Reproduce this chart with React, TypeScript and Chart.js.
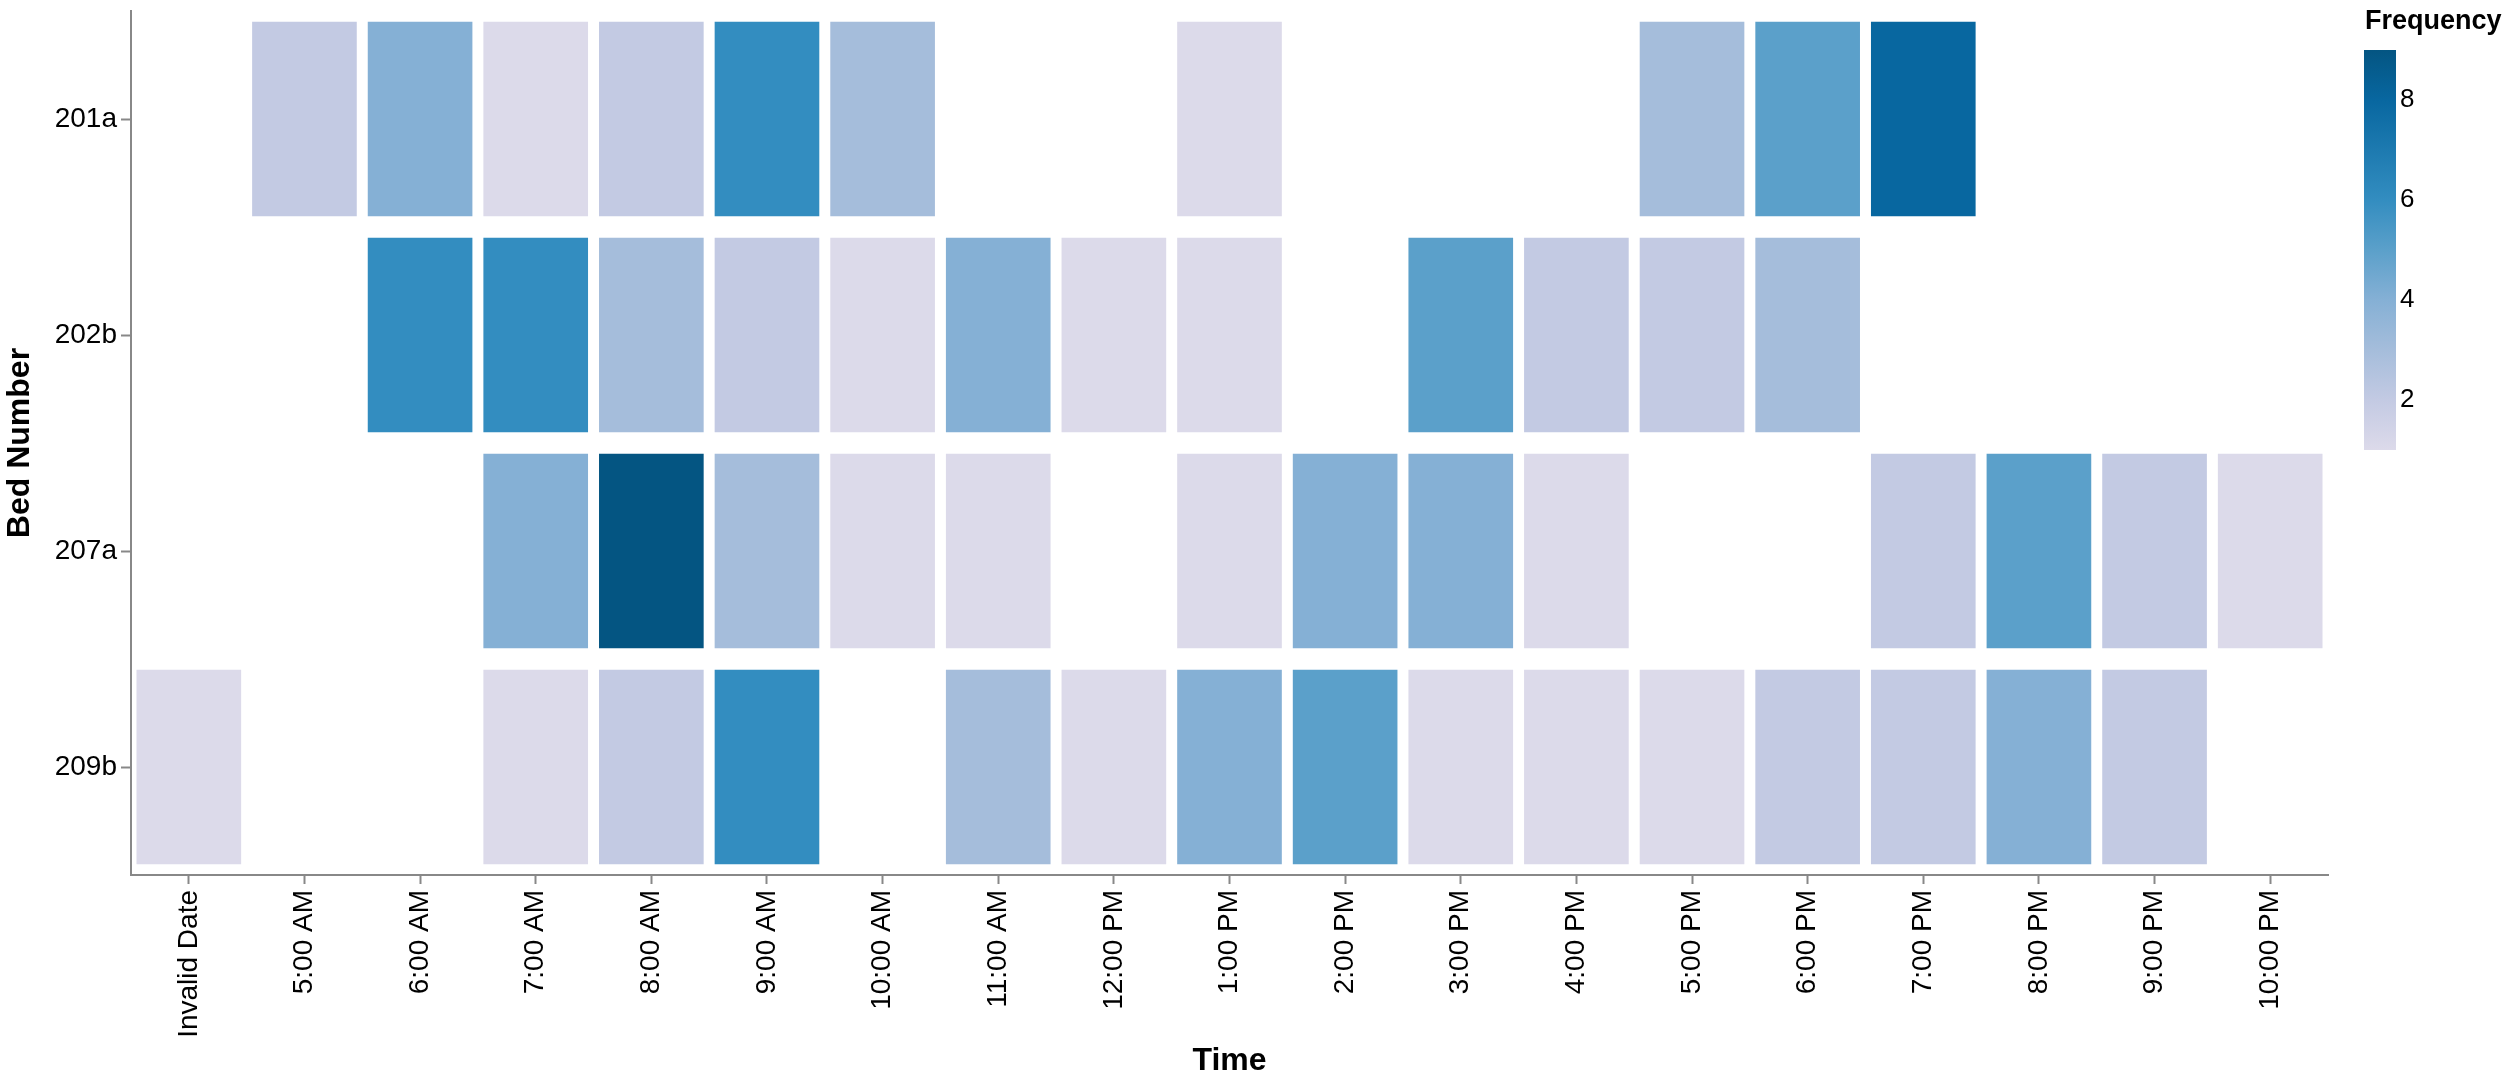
import React, { useEffect, useRef } from "react";
import { Chart, registerables } from "chart.js";

Chart.register(...registerables);

// ---- Data ----
const timeLabels = [
  "Invalid Date", "5:00 AM", "6:00 AM", "7:00 AM", "8:00 AM", "9:00 AM", "10:00 AM",
  "11:00 AM", "12:00 PM", "1:00 PM", "2:00 PM", "3:00 PM", "4:00 PM", "5:00 PM",
  "6:00 PM", "7:00 PM", "8:00 PM", "9:00 PM", "10:00 PM",
];
const bedLabels = ["201a", "202b", "207a", "209b"];

const bed201a = [null, 2, 4, 1, 2, 6, 3, null, null, 1, null, null, null, 3, 5, 8, null, null, null];
const bed202b = [null, null, 6, 6, 3, 2, 1, 4, 1, 1, null, 5, 2, 2, 3, null, null, null, null];
const bed207a = [null, null, null, 4, 9, 3, 1, 1, null, 1, 4, 4, 1, null, null, 2, 5, 2, 1];
const bed209b = [1, null, null, 1, 2, 6, null, 3, 1, 4, 5, 1, 1, 1, 2, 2, 4, 2, null];

const bedValues: (number | null)[][] = [bed201a, bed202b, bed207a, bed209b];

const legendTicks = [2, 4, 6, 8];
const colorDomain = [1, 9];

// ---- Styles ----
const FONT = "'Liberation Sans', Arial, Helvetica, sans-serif";
const AXIS_COLOR = "#888888";
const colorStops = [
  "#dcdaea", "#c3cae3", "#a5bddb", "#85b0d5", "#5ba0ca",
  "#338dc0", "#1d7ab0", "#0867a0", "#045582",
];

function hexToRgb(h: string): number[] {
  const n = parseInt(h.slice(1), 16);
  return [(n >> 16) & 255, (n >> 8) & 255, n & 255];
}

function colorFor(v: number): string {
  const t = Math.max(0, Math.min(1, (v - colorDomain[0]) / (colorDomain[1] - colorDomain[0])));
  const pos = t * (colorStops.length - 1);
  const i = Math.min(colorStops.length - 2, Math.floor(pos));
  const f = pos - i;
  const a = hexToRgb(colorStops[i]);
  const b = hexToRgb(colorStops[i + 1]);
  const c = a.map((x, k) => Math.round(x + (b[k] - x) * f));
  return `rgb(${c[0]},${c[1]},${c[2]})`;
}

const legendPlugin = {
  id: "colorLegend",
  afterDraw(chart: any) {
    const { ctx, chartArea } = chart;
    const x0 = chartArea.right + 36;
    const w = 32;
    const yTop = chartArea.top + 39;
    const yBot = chartArea.top + 439;
    const valToY = (v: number) =>
      yBot - ((v - colorDomain[0]) / (colorDomain[1] - colorDomain[0])) * (yBot - yTop);
    ctx.save();
    const g = ctx.createLinearGradient(0, yBot, 0, yTop);
    colorStops.forEach((c, i) => g.addColorStop(i / (colorStops.length - 1), c));
    ctx.fillStyle = g;
    ctx.fillRect(x0, yTop, w, yBot - yTop);
    ctx.fillStyle = "#000";
    ctx.font = `26px ${FONT}`;
    ctx.textAlign = "left";
    ctx.textBaseline = "middle";
    legendTicks.forEach((t) => ctx.fillText(String(t), x0 + w + 4, valToY(t)));
    ctx.font = `bold 27px ${FONT}`;
    ctx.fillText("Frequency", x0 + 1, 22);
    ctx.restore();
  },
};

export default function App() {
  const ref = useRef<HTMLCanvasElement | null>(null);

  useEffect(() => {
    if (!ref.current) return;
    const datasets = bedValues.map((vals, r) => ({
      label: bedLabels[r],
      data: vals.map((v) => (v == null ? null : [r - 0.45, r + 0.45])),
      backgroundColor: vals.map((v) => (v == null ? "rgba(0,0,0,0)" : colorFor(v))),
      borderWidth: 0,
      grouped: false,
      categoryPercentage: 1,
      barPercentage: 0.905,
    }));

    const chart = new Chart(ref.current, {
      type: "bar",
      data: { labels: timeLabels, datasets: datasets as any },
      plugins: [legendPlugin],
      options: {
        animation: false,
        responsive: false,
        maintainAspectRatio: false,
        layout: { padding: { left: 0, right: 180, top: 11, bottom: 0 } },
        plugins: { legend: { display: false }, tooltip: { enabled: false } },
        scales: {
          x: {
            type: "category",
            offset: true,
            grid: {
              offset: false,
              drawOnChartArea: false,
              drawTicks: true,
              tickLength: 9,
              tickWidth: 2,
              color: AXIS_COLOR,
            },
            border: { display: true, color: AXIS_COLOR, width: 2 },
            ticks: {
              minRotation: 90,
              maxRotation: 90,
              autoSkip: false,
              padding: 6,
              color: "#000",
              font: { size: 28, family: FONT },
            },
            title: {
              display: true,
              text: "Time",
              color: "#000",
              font: { size: 32, weight: "bold", family: FONT },
              padding: { top: 0, bottom: 2 },
            },
            afterFit: (s: any) => {
              s.height = 1082 - 875;
              s.paddingLeft = 0;
              s.paddingRight = 0;
            },
          },
          y: {
            type: "linear",
            min: -0.5,
            max: 3.5,
            reverse: true,
            afterBuildTicks: (s: any) => {
              s.ticks = bedLabels.map((_, i) => ({ value: i }));
            },
            grid: {
              drawOnChartArea: false,
              drawTicks: true,
              tickLength: 10,
              tickWidth: 2,
              color: AXIS_COLOR,
            },
            border: { display: true, color: AXIS_COLOR, width: 2 },
            ticks: {
              padding: 4,
              color: "#000",
              font: { size: 28, family: FONT },
              callback: (v: any) => bedLabels[Math.round(Number(v))] ?? "",
            },
            title: {
              display: true,
              text: "Bed Number",
              color: "#000",
              font: { size: 32, weight: "bold", family: FONT },
              padding: { top: 1, bottom: 0 },
            },
            afterFit: (s: any) => {
              s.width = 131;
              s.paddingTop = 0;
              s.paddingBottom = 0;
            },
          },
        },
      } as any,
    });
    return () => chart.destroy();
  }, []);

  return (
    <div style={{ position: "fixed", left: 0, top: 0, width: 2508, height: 1082, background: "#fff" }}>
      <canvas ref={ref} width={2508} height={1082} style={{ display: "block" }} />
    </div>
  );
}
